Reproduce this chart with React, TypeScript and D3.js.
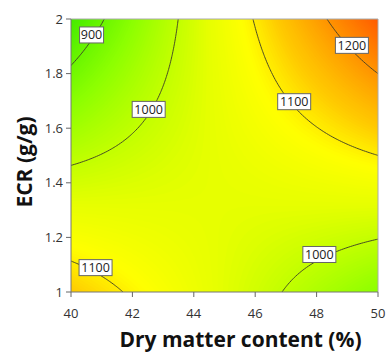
import React, { useMemo } from 'react';
import * as d3 from 'd3';

// grid nodes
const dryMatter = [40, 42, 44, 46, 48, 50];
const ecrLevels = [1, 1.2, 1.4, 1.6, 1.8, 2];

// estimated response at each node, one row per ECR value
const ecr10 = [1133, 1094, 1055, 1017, 978, 939];
const ecr12 = [1075, 1060, 1046, 1031, 1017, 1002];
const ecr14 = [1018, 1028, 1038, 1047, 1057, 1067];
const ecr16 = [962, 997, 1031, 1065, 1099, 1133];
const ecr18 = [908, 967, 1025, 1084, 1142, 1200];
const ecr20 = [855, 938, 1021, 1103, 1186, 1269];
const response = [ecr10, ecr12, ecr14, ecr16, ecr18, ecr20];

const xTicks = [40, 42, 44, 46, 48, 50];
const yTicks = [1, 1.2, 1.4, 1.6, 1.8, 2];
const yTickLabels = ['1', '1.2', '1.4', '1.6', '1.8', '2'];

const contourLevels = [900, 1000, 1100, 1200];
// where each contour label sits along the dry matter axis
const labelLevels = [900, 1000, 1100, 1200, 1100, 1000];
const labelAtDryMatter = [40.67, 42.53, 47.27, 49.15, 40.8, 48.09];

// colour ramp of the response
const colorStops = [850, 940, 1040, 1085, 1130, 1270];
const colorValues = ['#40ea00', '#8cff00', '#e6ff00', '#ffff00', '#ffcc00', '#ff5a00'];

const W = 387;
const H = 354;
const margin = { top: 19, right: 9, bottom: 62, left: 71 };

// catmull-rom, with quadratic ghost points at the ends
const cubic = (p0: number, p1: number, p2: number, p3: number, t: number) =>
  p1 + 0.5 * t * (p2 - p0 + t * (2 * p0 - 5 * p1 + 4 * p2 - p3 + t * (3 * (p1 - p2) + p3 - p0)));

const pick = (arr: number[], i: number) => {
  const n = arr.length;
  if (i < 0) return 3 * arr[0] - 3 * arr[1] + arr[2];
  if (i >= n) return 3 * arr[n - 1] - 3 * arr[n - 2] + arr[n - 3];
  return arr[i];
};

const surface = (x: number, y: number) => {
  const u = (x - dryMatter[0]) / (dryMatter[1] - dryMatter[0]);
  const v = (y - ecrLevels[0]) / (ecrLevels[1] - ecrLevels[0]);
  const i = Math.max(0, Math.min(dryMatter.length - 2, Math.floor(u)));
  const j = Math.max(0, Math.min(ecrLevels.length - 2, Math.floor(v)));
  const t = u - i;
  const s = v - j;
  const rowVal = (r: number[]) => cubic(pick(r, i - 1), pick(r, i), pick(r, i + 1), pick(r, i + 2), t);
  const col: number[] = response.map(rowVal);
  return cubic(pick(col, j - 1), pick(col, j), pick(col, j + 1), pick(col, j + 2), s);
};

export default function App() {
  const x = d3.scaleLinear().domain([40, 50]).range([margin.left, W - margin.right]);
  const y = d3.scaleLinear().domain([1, 2]).range([H - margin.bottom, margin.top]);
  const color = d3.scaleLinear<string>().domain(colorStops).range(colorValues).interpolate(d3.interpolateRgb).clamp(true);

  const { bands, lines, path } = useMemo(() => {
    const xd = [39.6, 50.4];
    const yd = [0.96, 2.04];
    const n = 180;
    const m = 180;
    const values = new Array(n * m);
    for (let r = 0; r < m; r++) {
      const ey = yd[0] + ((r + 0.5) * (yd[1] - yd[0])) / m;
      for (let c = 0; c < n; c++) {
        const ex = xd[0] + ((c + 0.5) * (xd[1] - xd[0])) / n;
        values[r * n + c] = surface(ex, ey);
      }
    }
    const proj = d3.geoTransform({
      point(px: number, py: number) {
        (this as any).stream.point(
          x(xd[0] + (px * (xd[1] - xd[0])) / n),
          y(yd[0] + (py * (yd[1] - yd[0])) / m)
        );
      },
    });
    const p = d3.geoPath(proj);
    const bands = d3.contours().size([n, m]).thresholds(d3.range(830, 1290, 3))(values);
    const lines = d3.contours().size([n, m]).thresholds(contourLevels)(values);
    return { bands, lines, path: p };
  }, []);

  const findEcr = (dm: number, level: number) => {
    const steps = 400;
    let prev = surface(dm, 1);
    for (let k = 1; k <= steps; k++) {
      const ey = 1 + k / steps;
      const cur = surface(dm, ey);
      if ((prev - level) * (cur - level) <= 0) {
        const f = (level - prev) / (cur - prev || 1);
        return ey - (1 - f) / steps;
      }
      prev = cur;
    }
    return 1.5;
  };

  const x0 = margin.left;
  const x1 = W - margin.right;
  const y0 = margin.top;
  const y1 = H - margin.bottom;
  const font = '"Open Sans", "DejaVu Sans", sans-serif';

  return (
    <svg width={W} height={H} style={{ position: 'absolute', left: 0, top: 0, background: '#fff' }} fontFamily={font}>
      <defs>
        <clipPath id="plot">
          <rect x={x0} y={y0} width={x1 - x0} height={y1 - y0} />
        </clipPath>
      </defs>
      <g clipPath="url(#plot)">
        {bands.map((b, i) => (
          <path key={i} d={path(b as any) || ''} fill={color(b.value + 1.5)} />
        ))}
        {lines.map((l, i) => (
          <path key={'l' + i} d={path(l as any) || ''} fill="none" stroke="#3a3a28" strokeWidth={0.9} />
        ))}
      </g>

      {labelLevels.map((lv, i) => {
        const dm = labelAtDryMatter[i];
        const cx = x(dm);
        // labels sit a little above the line they name
        const cy = y(findEcr(dm, lv)) - 5;
        const txt = String(lv);
        const bw = txt.length === 3 ? 24 : 33;
        return (
          <g key={'lab' + i}>
            <rect x={cx - bw / 2} y={cy - 8} width={bw} height={16} fill="#fff" stroke="#666" strokeWidth={1} />
            <text x={cx} y={cy + 4.5} textAnchor="middle" fontSize={12.5} fill="#222">
              {txt}
            </text>
          </g>
        );
      })}

      {/* frame */}
      <line x1={x0} y1={y0} x2={x1} y2={y0} stroke="#aaa" />
      <line x1={x1} y1={y0} x2={x1} y2={y1} stroke="#aaa" />
      <line x1={x0} y1={y0} x2={x0} y2={y1} stroke="#777" />
      <line x1={x0} y1={y1} x2={x1} y2={y1} stroke="#777" />

      {xTicks.map((t) => (
        <g key={'xt' + t}>
          <line x1={x(t)} x2={x(t)} y1={y1} y2={y1 + 5} stroke="#666" />
          <text x={x(t)} y={y1 + 25.5} textAnchor="middle" fontSize={13} fill="#333">
            {t}
          </text>
        </g>
      ))}
      {yTicks.map((t, i) => (
        <g key={'yt' + t}>
          <line x1={x0 - 5} x2={x0} y1={y(t)} y2={y(t)} stroke="#666" />
          <text x={x0 - 8} y={y(t) + 4.5} textAnchor="end" fontSize={13} fill="#333">
            {yTickLabels[i]}
          </text>
        </g>
      ))}

      <text x={240.5} y={347} textAnchor="middle" fontSize={21} fontWeight="bold" fill="#111">
        Dry matter content (%)
      </text>
      <text transform="translate(32,162) rotate(-90)" textAnchor="middle" fontSize={21} fontWeight="bold" fill="#111">
        ECR (g/g)
      </text>
    </svg>
  );
}
